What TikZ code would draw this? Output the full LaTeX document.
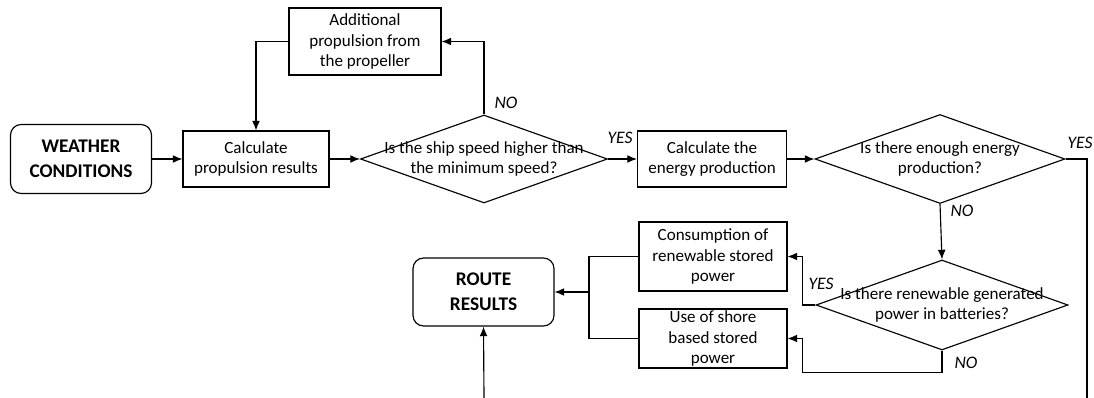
\documentclass[tikz,border=0pt]{standalone}
\usepackage{fontspec}
\setmainfont{Carlito}
\usetikzlibrary{shapes.geometric,arrows.meta,calc}
\begin{document}
\begin{tikzpicture}[x=0.02cm,y=-0.02cm,line width=0.65pt,
    font=\fontsize{9.7}{11.5}\selectfont,
    box/.style={draw,rectangle,align=center,inner sep=1pt},
    endbox/.style={draw,rounded corners=6pt,align=center,
      font=\fontsize{11}{14}\selectfont\bfseries},
    decision/.style={draw,diamond,inner sep=0pt},
    answer/.style={font=\fontsize{10}{12}\selectfont\itshape},
    flow/.style={-{Latex[length=5.5pt,width=4.5pt]}}]
  \useasboundingbox (0,0) rectangle (1094,398);
  % top row
  \node[endbox,minimum width=2.82cm,minimum height=1.38cm] (weather) at (81,159) {WEATHER\\CONDITIONS};
  \node[box,minimum width=2.92cm,minimum height=1.12cm] (calc) at (256,159) {Calculate\\propulsion results};
  \node[box,minimum width=3.04cm,minimum height=1.34cm] (addprop) at (365,41.5) {Additional\\propulsion from\\the propeller};
  \node[decision,minimum width=4.94cm,minimum height=1.76cm] (speed) at (484,159) {};
  \node[align=center] (speedtext) at (speed) {Is the ship speed higher than\\the minimum speed?};
  \node[box,minimum width=2.98cm,minimum height=1.12cm] (energy) at (712,159) {Calculate the\\energy production};
  \node[decision,minimum width=5cm,minimum height=1.78cm] (enough) at (940,159) {};
  \node[align=center] (enoughtext) at (enough) {Is there enough energy\\production?};
  % lower part
  \node[decision,minimum width=5.04cm,minimum height=1.8cm] (stored) at (942,305) {};
  \node[align=center] (storedtext) at (stored) {Is there renewable generated\\power in batteries?};
  \node[box,minimum width=2.96cm,minimum height=1.38cm] (consume) at (713,256.5) {Consumption of\\renewable stored\\power};
  \node[box,minimum width=2.96cm,minimum height=1.18cm] (shore) at (713,338.5) {Use of shore\\based stored\\power};
  \node[endbox,minimum width=2.82cm,minimum height=1.36cm] (route) at (483.5,292) {ROUTE\\RESULTS};
  \coordinate (merge) at (589,292);
  \coordinate (yesend) at (1087,398);
  \coordinate (routein) at (484,398);

  \draw[flow] (weather) -- (calc);
  \draw[flow] (calc) -- (speed);
  \draw[flow] (addprop.west) -| (calc.north);
  \draw[flow] (speed.north) |- (addprop.east);
  \draw[flow] (speed.east) -- (energy.west);
  \draw[flow] (energy) -- (enough);
  \draw (enough.east) -| (yesend);
  \draw[flow] (enough.south) -- (stored.north);
  \draw[flow] (stored.west) -| ($(consume.east)+(15,0)$) -- (consume.east);
  \draw[flow] (stored.south) -- ++(0,22) -| ($(shore.east)+(15,0)$) -- (shore.east);
  \draw (consume.west) -| (merge) |- (shore.west);
  \draw[flow] (merge) -- (route.east);
  \draw[flow] (routein) -- (route.south);

  \node[answer] (no1) at (506,103) {NO};
  \node[answer] (yes1) at (620,138) {YES};
  \node[answer] (yes2) at (1080,143) {YES};
  \node[answer] (no2) at (962,211) {NO};
  \node[answer] (yes3) at (821,284) {YES};
  \node[answer] (no3) at (966,363) {NO};
\end{tikzpicture}
\end{document}
